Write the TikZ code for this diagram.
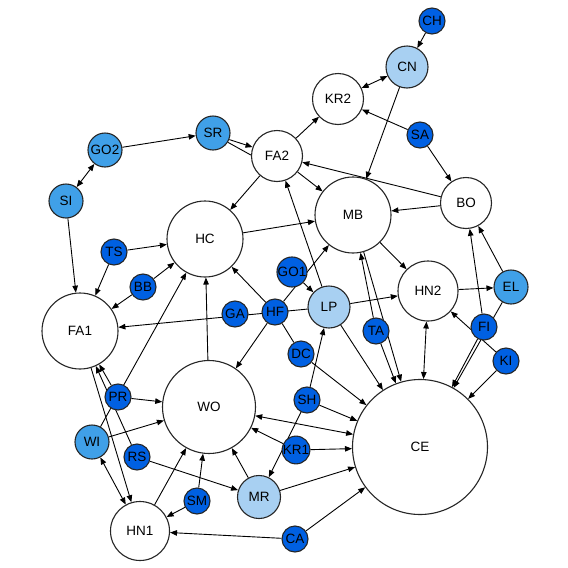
\documentclass[tikz,border=0pt]{standalone}
\usepackage{fontspec}
\setmainfont{Liberation Sans}
\usetikzlibrary{arrows.meta,backgrounds}

\definecolor{darkblue}{RGB}{0,96,226}
\definecolor{midblue}{RGB}{64,160,232}
\definecolor{lightblue}{RGB}{168,208,242}

\begin{document}
\begin{tikzpicture}[
    x=1pt, y=-1pt,
    vertex/.style={circle, draw=black!85, line width=1.1pt, inner sep=0pt, font=\fontsize{13.5}{15}\selectfont},
    plain/.style={vertex, fill=white},
    hub/.style={vertex, fill=darkblue},
    mid/.style={vertex, fill=midblue},
    light/.style={vertex, fill=lightblue},
    link/.style={line width=0.9pt, black},
    arrow/.style={link, -{Triangle[length=7pt,width=5.5pt]}},
    both/.style={link, {Triangle[length=7pt,width=5.5pt]}-{Triangle[length=7pt,width=5.5pt]}}
]
\useasboundingbox (0,0) rectangle (568,568);

% ============ NOEUDS HAUT ============
\node[hub, minimum size=26pt] (ch) at (432,21) {CH};
\node[light, minimum size=42pt] (cn) at (407,67) {CN};
\node[plain, minimum size=51pt] (kr2) at (338,99) {KR2};
\node[hub, minimum size=26pt] (sa) at (420,135) {SA};
\node[plain, minimum size=51pt] (bo) at (466,203) {BO};
\node[plain, minimum size=51pt] (fa2) at (277,156) {FA2};
\node[mid, minimum size=34pt] (sr) at (213,133) {SR};
\node[mid, minimum size=34pt] (go2) at (105,150) {GO2};
\node[mid, minimum size=34pt] (si) at (66,201) {SI};
\node[plain, minimum size=76pt] (mb) at (353,215) {MB};
\node[plain, minimum size=76pt] (hc) at (205,239) {HC};

% ============ NOEUDS MILIEU ============
\node[hub, minimum size=26pt] (ts) at (114,252) {TS};
\node[hub, minimum size=26pt] (bb) at (143,287) {BB};
\node[plain, minimum size=76pt] (fa1) at (80,331) {FA1};
\node[hub, minimum size=27pt] (go1) at (292,272) {GO1};
\node[hub, minimum size=26pt] (ga) at (235,314) {GA};
\node[hub, minimum size=26pt] (hf) at (275,312) {HF};
\node[light, minimum size=42pt] (lp) at (329,307) {LP};
\node[hub, minimum size=26pt] (dc) at (301,354) {DC};
\node[hub, minimum size=26pt] (ta) at (376,331) {TA};
\node[plain, minimum size=60pt] (hn2) at (428,291) {HN2};
\node[mid, minimum size=34pt] (el) at (511,287) {EL};
\node[hub, minimum size=26pt] (fi) at (484,327) {FI};
\node[hub, minimum size=26pt] (ki) at (506,361) {KI};

% ============ NOEUDS BAS ============
\node[hub, minimum size=26pt] (pr) at (118,397) {PR};
\node[mid, minimum size=34pt] (wi) at (92,442) {WI};
\node[hub, minimum size=26pt] (rs) at (137,457) {RS};
\node[plain, minimum size=93pt] (wo) at (209,407) {WO};
\node[light, minimum size=43pt] (mr) at (259,497) {MR};
\node[hub, minimum size=26pt] (sm) at (197,501) {SM};
\node[plain, minimum size=59pt] (hn1) at (140,531) {HN1};
\node[hub, minimum size=26pt] (ca) at (295,539) {CA};
\node[plain, minimum size=135pt] (ce) at (420,447) {CE};
\node[hub, minimum size=26pt] (sh) at (307,400) {SH};
\node[hub, minimum size=26pt] (kr1) at (296,450) {KR1};

\begin{scope}[on background layer]
% Haut
\draw[arrow] (ch) -- (cn);
\draw[both] (cn) -- (kr2);
\draw[arrow] (cn) -- (mb);
\draw[arrow] (sa) -- (kr2);
\draw[arrow] (sa) -- (bo);
\draw[arrow] (fa2) -- (kr2);
\draw[arrow] (bo) -- (fa2);
\draw[arrow] (bo) -- (mb);
\draw[arrow] (fa2) -- (mb);
\draw[arrow] (fa2) -- (hc);
\draw[arrow] (sr.-22) -- (fa2.160);
\draw[link] (sr.-32) -- (fa2.178);
\draw[arrow] (go2) -- (sr);
\draw[both] (go2) -- (si);
\draw[arrow] (si) -- (fa1);
\draw[arrow] (hc) -- (mb);

% Milieu
\draw[arrow] (ts) -- (hc);
\draw[arrow] (ts) -- (fa1);
\draw[arrow] (bb) -- (hc);
\draw[arrow] (bb) -- (fa1);
\draw[arrow] (lp) -- (fa1);
\draw[arrow] (lp) -- (fa2);
\draw[arrow] (hf) -- (mb);
\draw[arrow] (hf) -- (hc);
\draw[arrow] (hf) -- (wo);
\draw[link] (hf) -- (dc);
\draw[arrow] (go1) -- (lp);
\draw[arrow] (lp) -- (hn2);
\draw[arrow] (lp) -- (ce);
\draw[arrow] (dc) -- (ce);
\draw[arrow] (ta) -- (mb);
\draw[arrow] (ta) -- (ce);
\draw[arrow] (mb) -- (ce);
\draw[arrow] (mb) -- (hn2);
\draw[both] (hn2) -- (ce);
\draw[arrow] (hn2) -- (el);
\draw[arrow] (ki) -- (hn2);
\draw[arrow] (ki) -- (ce);
\draw[arrow] (fi) -- (bo);
\draw[arrow] (el) -- (bo);
\draw[arrow] (fi) -- (ce);
\draw[arrow] (el) -- (ce);

% Bas
\draw[arrow] (wo) -- (hc);
\draw[arrow] (wi) -- (hc);
\draw[arrow] (pr) -- (wo);
\draw[arrow] (wi) -- (wo);
\draw[arrow] (pr) -- (fa1);
\draw[arrow] (rs) -- (fa1);
\draw[arrow] (fa1) -- (hn1);
\draw[both] (wi) -- (hn1);
\draw[arrow] (rs) -- (mr);
\draw[arrow] (sh) -- (lp);
\draw[arrow] (sh) -- (ce);
\draw[arrow] (sh) -- (mr);
\draw[arrow] (kr1) -- (ce);
\draw[arrow] (kr1) -- (wo);
\draw[both] (wo) -- (ce);
\draw[arrow] (mr) -- (ce);
\draw[arrow] (mr) -- (wo);
\draw[arrow] (sm) -- (wo);
\draw[arrow] (sm) -- (hn1);
\draw[arrow] (hn1) -- (wo);
\draw[arrow] (ca) -- (hn1);
\draw[arrow] (ca) -- (ce);
\end{scope}

\end{tikzpicture}
\end{document}
